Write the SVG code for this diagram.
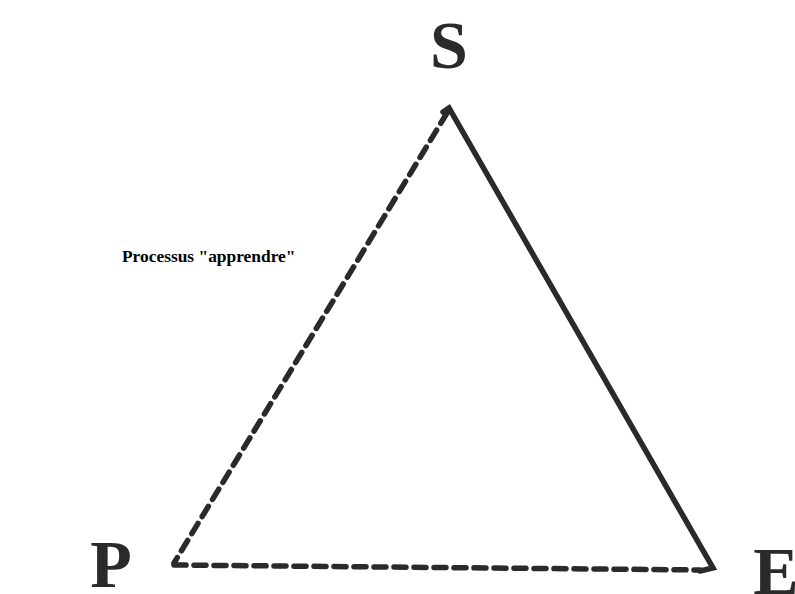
<svg xmlns="http://www.w3.org/2000/svg" width="795" height="594" viewBox="0 0 795 594">
<style>
.lbl{font-family:"Liberation Serif",serif;font-weight:bold;fill:#2a2a2a}
.big{font-size:68px}
.edge{stroke:#2a2a2a;stroke-width:5.5;fill:none;stroke-linecap:round}
.dash{stroke-dasharray:12 8}
</style>
<rect width="795" height="594" fill="#fff"/>
<g id="connectors">
<path class="edge dash" d="M447,113 L174,563"/>
<path class="edge dash" d="M174,565 L700,570"/>
<path class="edge" d="M443,112 L449,108 L713,568 L700,571"/>
</g>
<g id="S"><text class="lbl big" x="449" y="68" text-anchor="middle">S</text></g>
<g id="P"><text class="lbl big" x="111" y="587" text-anchor="middle">P</text></g>
<g id="E"><text class="lbl big" x="776" y="594" text-anchor="middle">E</text></g>
<g id="label"><text x="122" y="262" font-family="Liberation Serif, serif" font-weight="bold" font-size="17.4" fill="#000">Processus "apprendre"</text></g>
</svg>
